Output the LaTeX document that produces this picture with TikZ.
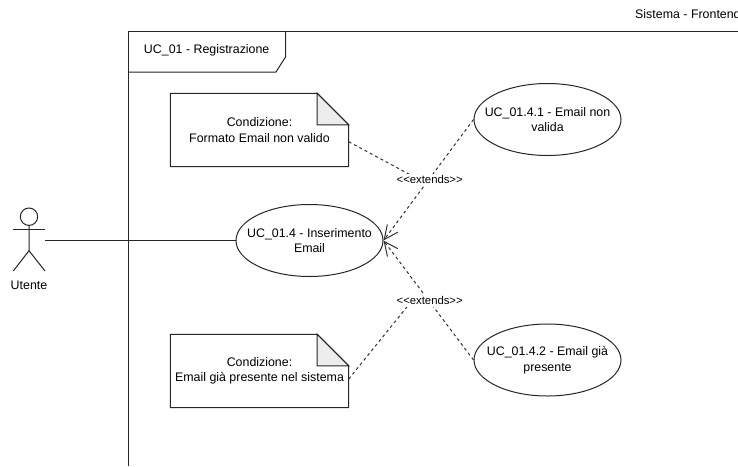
\documentclass[tikz,border=0pt]{standalone}
\usepackage{fontspec}
\setmainfont{Liberation Sans}
\usetikzlibrary{shapes.geometric,arrows.meta,backgrounds}
\tikzset{
  txt/.style={font=\fontsize{12.4}{15.5}\selectfont,align=center,text=black,inner sep=0pt},
  usecase/.style={draw=black!85,line width=1pt,fill=white,ellipse,minimum width=147pt,minimum height=72pt,inner sep=0pt},
  notebox/.style={txt,minimum width=178pt,minimum height=73pt},
  noteline/.style={draw=black!85,line width=1pt,fill=white,line join=miter},
  fold/.style={draw=black!85,line width=1pt,fill=black!7},
  frameline/.style={draw=black!85,line width=1pt},
  assoc/.style={draw=black!85,line width=1pt},
  ext/.style={draw=black!80,line width=1pt,dash pattern=on 3pt off 3pt},
  extarrow/.style={ext,-{Straight Barb[length=14pt,width=13pt,line width=1pt,sep=0pt]}},
  extlabel/.style={font=\fontsize{11.3}{12}\selectfont,fill=white,text=black,inner xsep=0pt,inner ysep=1pt,minimum height=12pt}
}
\begin{document}
\begin{tikzpicture}[x=1pt,y=-1pt]
\useasboundingbox (0,0) rectangle (738,466);
\clip (0,0) rectangle (738,466);
% system title and frame
\node[txt,anchor=west] (system) at (635,14.5) {Sistema - Frontend};
\node[txt] (frametitle) at (206.7,50.7) {UC\_01 - Registrazione};
% notes
\node[notebox] (n1) at (259.5,130) {Condizione:\\Formato Email non valido};
\node[notebox] (n2) at (259.5,371) {Condizione:\\Email già presente nel sistema};
% use cases
\node[usecase,label={[txt]center:UC\_01.4 - Inserimento\\Email}] (main) at (309.5,240.5) {};
\node[usecase,label={[txt]center:UC\_01.4.1 - Email non\\valida}] (u1) at (547.5,119.5) {};
\node[usecase,label={[txt]center:UC\_01.4.2 - Email già\\presente}] (u2) at (547.5,360) {};
% actor
\node[draw=black!85,line width=1pt,circle,minimum size=17.4pt,inner sep=0pt] (head) at (29,216.7) {};
\coordinate (hip) at (29,250.7);
\coordinate (armL) at (13.3,229.3);
\coordinate (armR) at (45,229.3);
\coordinate (legL) at (13.3,271);
\coordinate (legR) at (45,271);
\coordinate (hand) at (45,240.5);
\node[txt] (utente) at (29,285.7) {Utente};
% connector labels
\node[extlabel] (l1) at (429.7,179.5) {<\kern0pt<extends>\kern0pt>};
\node[extlabel] (l2) at (429.7,300.7) {<\kern0pt<extends>\kern0pt>};
\coordinate (j1) at (419,179.5);
\coordinate (j2) at (412,300.7);
\begin{scope}[on background layer]
  \fill[white] (0,0) rectangle (738,466);
  % frame
  \draw[frameline] (128.5,466) -- (128.5,31) -- (738,31);
  \draw[frameline] (285.5,31) -- (285.5,57) -- (276,72) -- (128.5,72);
  % connectors
  \draw[assoc] (hand) -- (main.west);
  \draw[extarrow] (u1.west) -- (main.east);
  \draw[extarrow] (u2.west) -- (main.east);
  \draw[ext] ([yshift=-11.7pt]n1.east) -- (j1);
  \draw[ext] ([yshift=-8pt]n2.east) -- (j2);
  % actor body
  \draw[assoc] (head.south) -- (hip) -- (legL);
  \draw[assoc] (hip) -- (legR);
  \draw[assoc] (armL) -- (armR);
  % note outlines
  \foreach \n in {n1,n2}{
    \draw[noteline] (\n.north west) -- ([xshift=-31.5pt]\n.north east) -- ([yshift=-31.5pt]\n.north east) -- (\n.south east) -- (\n.south west) -- cycle;
    \draw[fold] ([xshift=-31.5pt]\n.north east) -- ([yshift=-31.5pt]\n.north east) -- ([xshift=-31.5pt,yshift=-31.5pt]\n.north east) -- cycle;
  }
\end{scope}
\end{tikzpicture}
\end{document}
